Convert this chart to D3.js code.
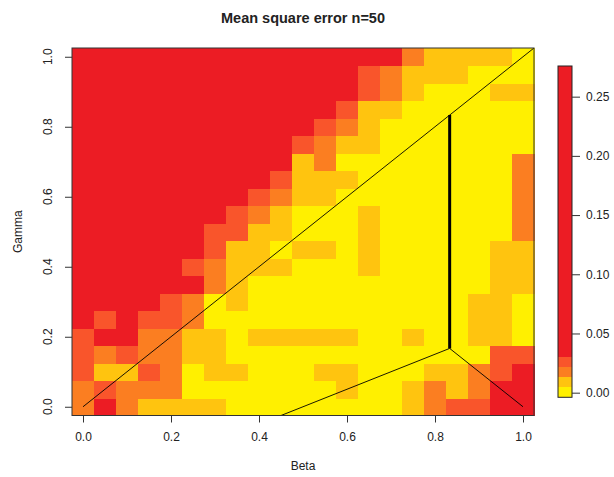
<!DOCTYPE html>
<html>
<head>
<meta charset="utf-8">
<script src="https://cdn.jsdelivr.net/npm/d3@7"></script>
<style>
  body { margin: 0; background: #fff; }
  text { font-family: "Liberation Sans", Arial, sans-serif; fill: #222; }
</style>
</head>
<body>
<div class="js-chart"></div>
<script>
'use strict';

// grid coordinates
const betaVals = [0, 0.05, 0.1, 0.15, 0.2, 0.25, 0.3, 0.35, 0.4, 0.45, 0.5, 0.55, 0.6, 0.65, 0.7, 0.75, 0.8, 0.85, 0.9, 0.95, 1];
const gammaVals = [0, 0.05, 0.1, 0.15, 0.2, 0.25, 0.3, 0.35, 0.4, 0.45, 0.5, 0.55, 0.6, 0.65, 0.7, 0.75, 0.8, 0.85, 0.9, 0.95, 1];

// mean square error, one row per gamma (bottom row first), one value per beta
const mse = [
  [.018,.2,.018,.009,.009,.009,.009,.002,.002,.002,.002,.002,.002,.002,.002,.009,.018,.026,.026,.2,.2],
  [.018,.026,.018,.018,.018,.002,.002,.002,.002,.002,.002,.002,.009,.002,.002,.009,.018,.009,.018,.2,.2],
  [.026,.009,.009,.026,.018,.002,.009,.009,.002,.002,.002,.009,.009,.002,.002,.002,.009,.009,.018,.026,.2],
  [.026,.018,.026,.018,.018,.009,.009,.002,.002,.002,.002,.002,.002,.002,.002,.002,.002,.002,.002,.026,.026],
  [.026,.2,.2,.018,.018,.009,.009,.002,.009,.009,.009,.009,.009,.002,.002,.009,.002,.002,.009,.009,.002],
  [.2,.026,.2,.026,.026,.018,.002,.002,.002,.002,.002,.002,.002,.002,.002,.002,.002,.002,.009,.009,.002],
  [.2,.2,.2,.2,.026,.018,.002,.009,.002,.002,.002,.002,.002,.002,.002,.002,.002,.002,.009,.009,.002],
  [.2,.2,.2,.2,.2,.2,.018,.009,.002,.002,.002,.002,.002,.002,.002,.002,.002,.002,.002,.009,.009],
  [.2,.2,.2,.2,.2,.026,.018,.009,.009,.009,.002,.002,.002,.009,.002,.002,.002,.002,.002,.009,.009],
  [.2,.2,.2,.2,.2,.2,.026,.009,.009,.002,.009,.009,.002,.009,.002,.002,.002,.002,.002,.009,.009],
  [.2,.2,.2,.2,.2,.2,.026,.026,.009,.009,.002,.002,.002,.009,.002,.002,.002,.002,.002,.002,.018],
  [.2,.2,.2,.2,.2,.2,.2,.026,.018,.009,.002,.002,.002,.009,.002,.002,.002,.002,.002,.002,.018],
  [.2,.2,.2,.2,.2,.2,.2,.2,.026,.018,.009,.009,.002,.002,.002,.002,.002,.002,.002,.002,.018],
  [.2,.2,.2,.2,.2,.2,.2,.2,.2,.026,.009,.009,.009,.002,.002,.002,.002,.002,.002,.002,.018],
  [.2,.2,.2,.2,.2,.2,.2,.2,.2,.2,.009,.018,.002,.002,.002,.002,.002,.002,.002,.002,.018],
  [.2,.2,.2,.2,.2,.2,.2,.2,.2,.2,.026,.018,.009,.009,.002,.002,.002,.002,.002,.002,.002],
  [.2,.2,.2,.2,.2,.2,.2,.2,.2,.2,.2,.026,.018,.009,.002,.002,.002,.002,.002,.002,.002],
  [.2,.2,.2,.2,.2,.2,.2,.2,.2,.2,.2,.2,.026,.009,.009,.002,.002,.002,.002,.002,.002],
  [.2,.2,.2,.2,.2,.2,.2,.2,.2,.2,.2,.2,.2,.026,.018,.009,.002,.002,.002,.009,.009],
  [.2,.2,.2,.2,.2,.2,.2,.2,.2,.2,.2,.2,.2,.026,.018,.009,.009,.009,.002,.002,.002],
  [.2,.2,.2,.2,.2,.2,.2,.2,.2,.2,.2,.2,.2,.2,.2,.018,.009,.009,.009,.009,.002]
];

// colour breaks of the legend
const breaks = [-0.0039, 0.0051, 0.0135, 0.022, 0.0304, 0.2759];
const palette = ['#FFF000', '#FFC40F', '#FB7E21', '#F9552B', '#EC1C24'];

const axisTicks = [0, 0.2, 0.4, 0.6, 0.8, 1];
const legendTicks = [0, 0.05, 0.1, 0.15, 0.2, 0.25];

// reference lines
const diagLine = [[0, 0], [1.05, 1.05]];
const vertLine = [[5 / 6, 5 / 6], [5 / 6, 1 / 6]];
const lowerLeftLine = [[5 / 6, 1 / 6], [0.4, -0.05]];
const lowerRightLine = [[5 / 6, 1 / 6], [1, 0]];

const svgWidth = 614;
const svgHeight = 477;
const half = 0.025;

const xScale = d3.scaleLinear().domain([-half, 1 + half]).range([72, 534]);
const yScale = d3.scaleLinear().domain([-half, 1 + half]).range([415.5, 48]);
const colour = d3.scaleThreshold().domain(breaks.slice(1, -1)).range(palette);

const svg = d3.select('.js-chart')
  .append('svg')
  .attr('width', svgWidth)
  .attr('height', svgHeight);

svg.append('clipPath').attr('id', 'plotClip')
  .append('rect')
  .attr('x', xScale(-half)).attr('y', yScale(1 + half))
  .attr('width', xScale(1 + half) - xScale(-half))
  .attr('height', yScale(-half) - yScale(1 + half));

// flatten cells
const cells = [];
mse.forEach(function(row, j) {
  row.forEach(function(v, i) {
    cells.push({ beta: betaVals[i], gamma: gammaVals[j], value: v });
  });
});

svg.append('g')
  .attr('shape-rendering', 'crispEdges')
  .selectAll('rect')
  .data(cells)
  .enter()
  .append('rect')
  .attr('x', d => xScale(d.beta - half))
  .attr('y', d => yScale(d.gamma + half))
  .attr('width', d => xScale(d.beta + half) - xScale(d.beta - half) + 0.5)
  .attr('height', d => yScale(d.gamma - half) - yScale(d.gamma + half) + 0.5)
  .attr('fill', d => colour(d.value));

const line = d3.line().x(d => xScale(d[0])).y(d => yScale(d[1]));
const lines = svg.append('g').attr('clip-path', 'url(#plotClip)');

[diagLine, lowerLeftLine, lowerRightLine].forEach(function(pts) {
  lines.append('path')
    .attr('d', line(pts))
    .attr('fill', 'none')
    .attr('stroke', '#000')
    .attr('stroke-width', 0.9);
});

lines.append('path')
  .attr('d', line(vertLine))
  .attr('fill', 'none')
  .attr('stroke', '#000')
  .attr('stroke-width', 3);

// box
svg.append('rect')
  .attr('x', xScale(-half)).attr('y', yScale(1 + half))
  .attr('width', xScale(1 + half) - xScale(-half))
  .attr('height', yScale(-half) - yScale(1 + half))
  .attr('fill', 'none')
  .attr('stroke', '#333')
  .attr('stroke-width', 1);

// x axis
const xAxis = d3.axisBottom(xScale)
  .tickValues(axisTicks)
  .tickSize(7)
  .tickPadding(10)
  .tickFormat(d3.format('.1f'));

const gx = svg.append('g')
  .attr('transform', `translate(0,${yScale(-half)})`)
  .call(xAxis);
gx.select('.domain').remove();
gx.selectAll('line').attr('stroke', '#333');
gx.selectAll('text').style('font-size', '12px').attr('fill', '#222');

// y axis, labels parallel to axis like R
const gy = svg.append('g')
  .attr('transform', `translate(${xScale(-half)},0)`)
  .call(d3.axisLeft(yScale).tickValues(axisTicks).tickSize(7).tickFormat(''));
gy.select('.domain').remove();
gy.selectAll('line').attr('stroke', '#333');

svg.append('g')
  .selectAll('text')
  .data(axisTicks)
  .enter()
  .append('text')
  .attr('transform', d => `translate(52,${yScale(d)}) rotate(-90)`)
  .attr('text-anchor', 'middle')
  .style('font-size', '12px')
  .text(d3.format('.1f'));

// titles
svg.append('text')
  .attr('x', (xScale(-half) + xScale(1 + half)) / 2)
  .attr('y', 23)
  .attr('text-anchor', 'middle')
  .style('font-size', '14.5px')
  .style('font-weight', 'bold')
  .attr('fill', '#000')
  .text('Mean square error n=50');

svg.append('text')
  .attr('x', (xScale(-half) + xScale(1 + half)) / 2)
  .attr('y', 470)
  .attr('text-anchor', 'middle')
  .style('font-size', '12px')
  .text('Beta');

svg.append('text')
  .attr('transform', `translate(22,${(yScale(-half) + yScale(1 + half)) / 2}) rotate(-90)`)
  .attr('text-anchor', 'middle')
  .style('font-size', '12px')
  .text('Gamma');

// legend
const legendScale = d3.scaleLinear()
  .domain([breaks[0], breaks[breaks.length - 1]])
  .range([397.3, 66]);
const legendX = 558;
const legendW = 14;

const legendBins = d3.pairs(breaks);
svg.append('g')
  .attr('shape-rendering', 'crispEdges')
  .selectAll('rect')
  .data(legendBins)
  .enter()
  .append('rect')
  .attr('x', legendX)
  .attr('y', d => legendScale(d[1]))
  .attr('width', legendW)
  .attr('height', d => legendScale(d[0]) - legendScale(d[1]))
  .attr('fill', (d, i) => palette[i]);

svg.append('rect')
  .attr('x', legendX).attr('y', legendScale(breaks[breaks.length - 1]))
  .attr('width', legendW)
  .attr('height', legendScale(breaks[0]) - legendScale(breaks[breaks.length - 1]))
  .attr('fill', 'none')
  .attr('stroke', '#222')
  .attr('stroke-width', 1);

const gl = svg.append('g')
  .attr('transform', `translate(${legendX + legendW},0)`)
  .call(d3.axisRight(legendScale).tickValues(legendTicks).tickSize(8).tickPadding(6).tickFormat(d3.format('.2f')));
gl.select('.domain').remove();
gl.selectAll('line').attr('stroke', '#333');
gl.selectAll('text').style('font-size', '12px').attr('fill', '#222');
</script>
</body>
</html>
